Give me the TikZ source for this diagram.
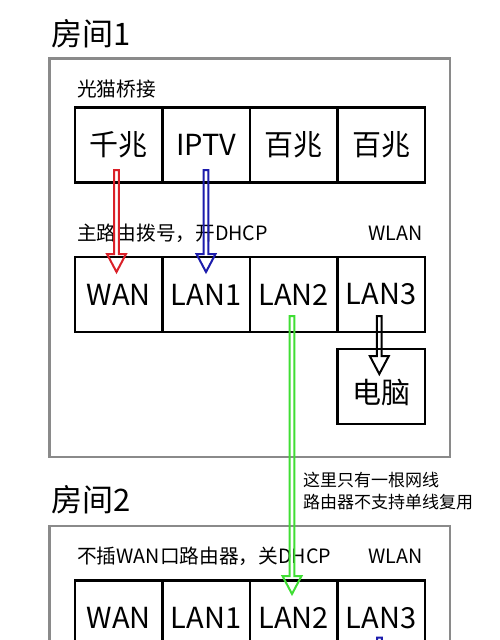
\documentclass[tikz,border=0pt]{standalone}
\usepackage{fontspec}
\setmainfont{Noto Sans CJK SC}
\usetikzlibrary{calc}
\definecolor{rd}{RGB}{218,32,40}
\definecolor{bl}{RGB}{28,28,172}
\definecolor{gn}{RGB}{64,222,52}
\definecolor{roomgray}{RGB}{138,138,138}
\tikzset{
  cell/.style={draw=black, line width=2.6pt, minimum width=87.5pt, minimum height=75pt, inner sep=0pt, font=\fontsize{29}{29}\selectfont},
  room/.style={draw=roomgray, line width=2.4pt, minimum width=400.7pt, inner sep=0pt},
  roomtitle/.style={anchor=west, inner sep=0pt, font=\fontsize{31}{31}\selectfont},
  lbl/.style={inner sep=0pt, font=\fontsize{19.7}{19.7}\selectfont},
  note/.style={inner sep=0pt, align=left, anchor=west, font=\fontsize{17}{22}\selectfont},
  hollow/.style={draw=#1, line width=2pt, line join=miter,
    to path={let \p1=(\tikztostart), \p2=(\tikztotarget) in
      (\x1-2.4pt,\y1) -- (\x1+2.4pt,\y1) -- (\x1+2.4pt,\y2+18pt) -- (\x1+9.5pt,\y2+18pt)
      -- (\x1,\y2) -- (\x1-9.5pt,\y2+18pt) -- (\x1-2.4pt,\y2+18pt) -- cycle}}
}
\begin{document}
\begin{tikzpicture}[x=1pt,y=-1pt]
\useasboundingbox (0,0) rectangle (500,640);
\clip (0,0) rectangle (500,640);
\fill[white] (0,0) rectangle (500,640);

% rooms
\node[room, minimum height=398.5pt] (room1) at (249.7,257.9) {};
\node[room, minimum height=200pt] (room2) at (249.7,626) {};
\node[roomtitle] (t1) at (51,34) {房间1};
\node[roomtitle] (t2) at (51,500) {房间2};

% labels
\node[lbl, anchor=west] (l1) at (77,89) {光猫桥接};
\node[lbl, anchor=west] (l2) at (77,233) {主路由拨号，开DHCP};
\node[lbl, anchor=east] (w1) at (423,233) {WLAN};
\node[lbl, anchor=west] (l3) at (77,556) {不插WAN口路由器，关DHCP};
\node[lbl, anchor=east] (w2) at (423,556) {WLAN};
\node[note] (nt) at (303,491) {这里只有一根网线\\路由器不支持单线复用};

% modem
\node[cell] (m1) at (118.75,145.2) {千兆};
\node[cell] (m2) at (206.25,145.2) {IPTV};
\node[cell] (m3) at (293.75,145.2) {百兆};
\node[cell] (m4) at (381.25,145.2) {百兆};

% router 1
\node[cell] (r1) at (118.75,294.5) {WAN};
\node[cell] (r2) at (206.25,294.5) {LAN1};
\node[cell] (r3) at (293.75,294.5) {LAN2};
\node[cell] (r4) at (381.25,294.5) {LAN3};
\node[cell] (pc) at (381.25,386.5) {\raisebox{-16.5pt}[0pt][0pt]{电脑}};

% router 2
\node[cell] (s1) at (118.75,618) {WAN};
\node[cell] (s2) at (206.25,618) {LAN1};
\node[cell] (s3) at (293.75,618) {LAN2};
\node[cell] (s4) at (381.25,618) {LAN3};

% arrows
\coordinate (rs) at (116.5,170);
\coordinate (re) at (116.5,272);
\coordinate (bs) at (206,170);
\coordinate (be) at (206,272);
\coordinate (ks) at (379.3,316);
\coordinate (ke) at (379.3,374);
\coordinate (gs) at (292,316);
\coordinate (ge) at (292,594);
\coordinate (b2s) at (379.5,637.5);
\coordinate (b2e) at (379.5,720);
\draw[hollow=rd] (rs) to (re);
\draw[hollow=bl] (bs) to (be);
\draw[hollow=black] (ks) to (ke);
\draw[hollow=gn] (gs) to (ge);
\draw[hollow=bl] (b2s) to (b2e);
\end{tikzpicture}
\end{document}
